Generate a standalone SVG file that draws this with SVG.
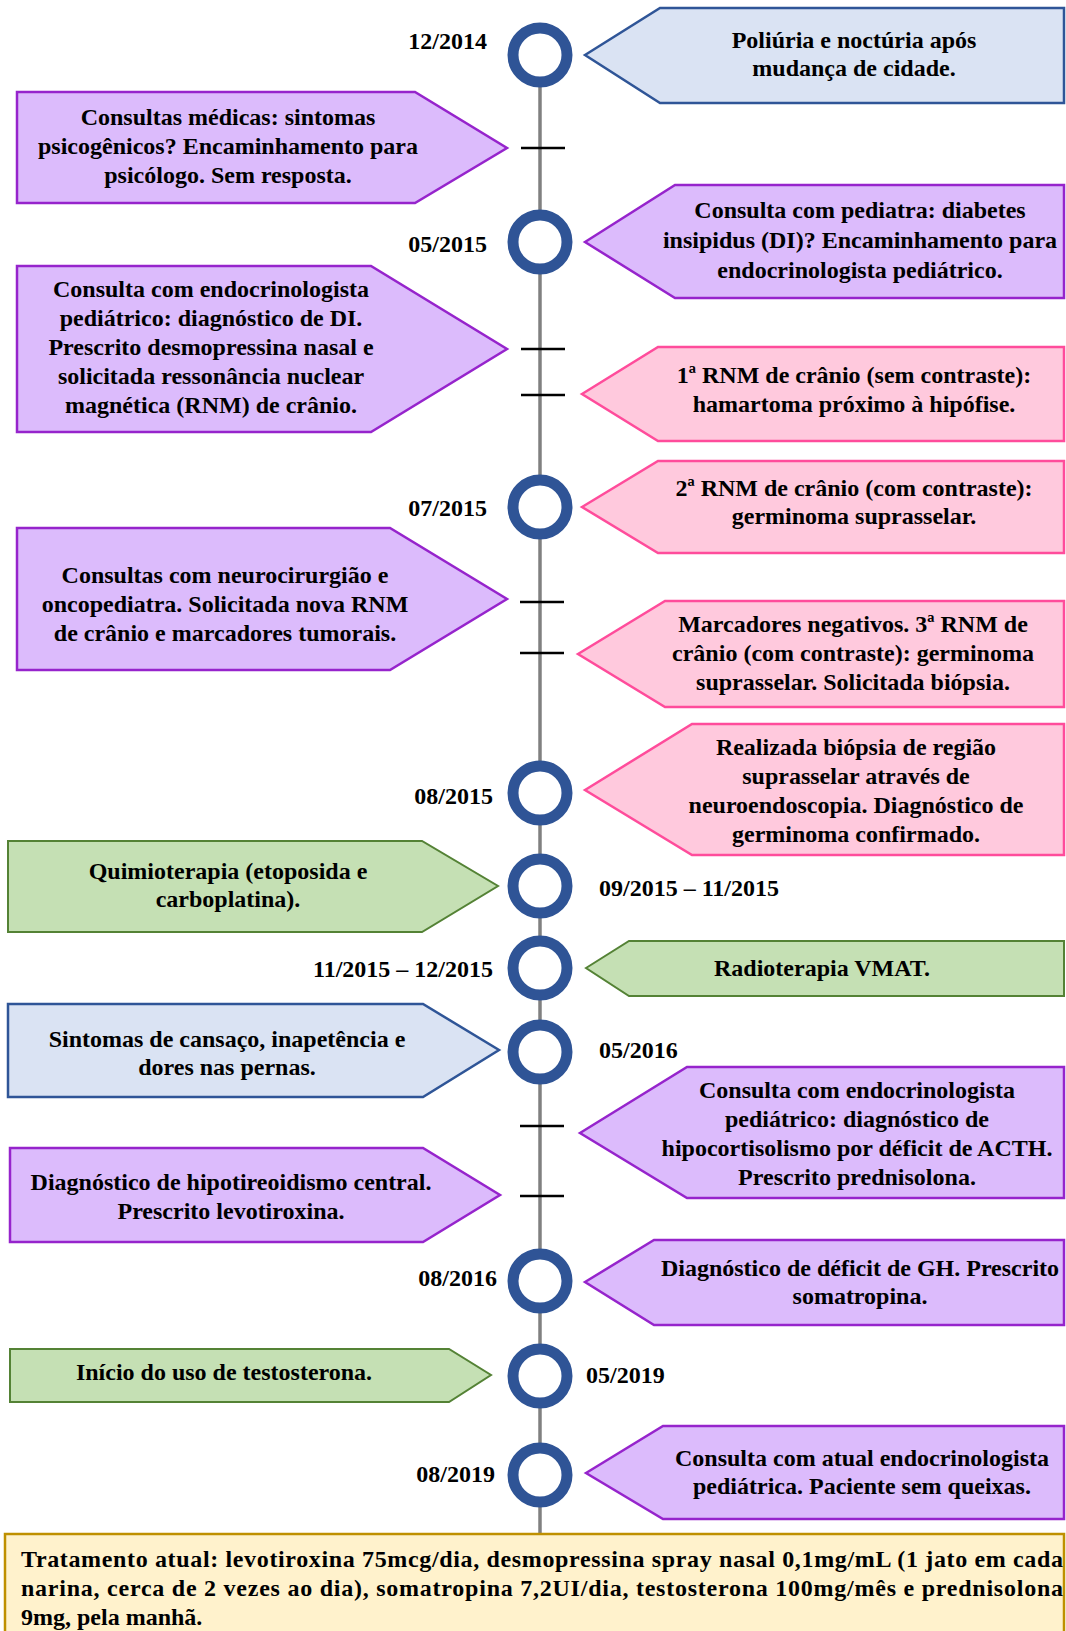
<svg xmlns="http://www.w3.org/2000/svg" width="1066" height="1631" viewBox="0 0 1066 1631">
<style>
text{font-family:"Liberation Serif","Times New Roman",serif;font-weight:bold;font-size:24px;fill:#000}
.c{text-anchor:middle}
.e{text-anchor:end}
.blue{fill:#DAE3F3;stroke:#2F5597;stroke-width:2.5}
.purple{fill:#DCBBFC;stroke:#9624CC;stroke-width:2.5}
.pink{fill:#FFC9DD;stroke:#FF4C9B;stroke-width:2.5}
.green{fill:#C5E0B4;stroke:#548235;stroke-width:2}
.yellow{fill:#FFF2CC;stroke:#BF9000;stroke-width:2.5}
.ring{fill:#fff;stroke:#2F5496;stroke-width:11}
.tick{stroke:#000;stroke-width:2.5}
</style>
<rect width="1066" height="1631" fill="#fff"/>
<g id="connectors">
<line x1="540" y1="55" x2="540" y2="1534" stroke="#808080" stroke-width="3.5"/>
<line class="tick" x1="521" y1="148" x2="565" y2="148"/>
<line class="tick" x1="521" y1="349" x2="565" y2="349"/>
<line class="tick" x1="521" y1="395" x2="565" y2="395"/>
<line class="tick" x1="520" y1="602" x2="564" y2="602"/>
<line class="tick" x1="520" y1="653" x2="564" y2="653"/>
<line class="tick" x1="520" y1="1126" x2="564" y2="1126"/>
<line class="tick" x1="520" y1="1196" x2="564" y2="1196"/>
</g>
<g id="m1"><circle class="ring" cx="540" cy="55" r="27"/><text class="e" x="487" y="49">12/2014</text></g>
<g id="m2"><circle class="ring" cx="540" cy="242" r="27"/><text class="e" x="487" y="252">05/2015</text></g>
<g id="m3"><circle class="ring" cx="540" cy="507" r="27"/><text class="e" x="487" y="516">07/2015</text></g>
<g id="m4"><circle class="ring" cx="540" cy="793" r="27"/><text class="e" x="493" y="804">08/2015</text></g>
<g id="m5"><circle class="ring" cx="540" cy="886" r="27"/><text x="599" y="896">09/2015 – 11/2015</text></g>
<g id="m6"><circle class="ring" cx="540" cy="968" r="27"/><text class="e" x="493" y="977">11/2015 – 12/2015</text></g>
<g id="m7"><circle class="ring" cx="540" cy="1052" r="27"/><text x="599" y="1058">05/2016</text></g>
<g id="m8"><circle class="ring" cx="540" cy="1281" r="27"/><text class="e" x="497" y="1286">08/2016</text></g>
<g id="m9"><circle class="ring" cx="540" cy="1376" r="27"/><text x="586" y="1383">05/2019</text></g>
<g id="m10"><circle class="ring" cx="540" cy="1475" r="27"/><text class="e" x="495" y="1482">08/2019</text></g>

<g id="r1"><polygon class="blue" points="585,55 660,8 1064,8 1064,103 660,103"/>
<text class="c" x="854" y="48">Poliúria e noctúria após</text><text class="c" x="854" y="76">mudança de cidade.</text></g>
<g id="l1"><polygon class="purple" points="17,92 415,92 507,148 415,203 17,203"/>
<text class="c" x="228" y="125">Consultas médicas: sintomas</text><text class="c" x="228" y="154">psicogênicos? Encaminhamento para</text><text class="c" x="228" y="183">psicólogo. Sem resposta.</text></g>
<g id="r2"><polygon class="purple" points="585,242 675,185 1064,185 1064,298 675,298"/>
<text class="c" x="860" y="218">Consulta com pediatra: diabetes</text><text class="c" x="860" y="248">insipidus (DI)? Encaminhamento para</text><text class="c" x="860" y="278">endocrinologista pediátrico.</text></g>
<g id="l2"><polygon class="purple" points="17,266 371,266 507,349 371,432 17,432"/>
<text class="c" x="211" y="297">Consulta com endocrinologista</text><text class="c" x="211" y="326">pediátrico: diagnóstico de DI.</text><text class="c" x="211" y="355">Prescrito desmopressina nasal e</text><text class="c" x="211" y="384">solicitada ressonância nuclear</text><text class="c" x="211" y="413">magnética (RNM) de crânio.</text></g>
<g id="r3"><polygon class="pink" points="582,394 658,347 1064,347 1064,441 658,441"/>
<text class="c" x="854" y="383">1ª RNM de crânio (sem contraste):</text><text class="c" x="854" y="412">hamartoma próximo à hipófise.</text></g>
<g id="r4"><polygon class="pink" points="582,507 658,461 1064,461 1064,553 658,553"/>
<text class="c" x="854" y="496">2ª RNM de crânio (com contraste):</text><text class="c" x="854" y="524">germinoma suprasselar.</text></g>
<g id="l3"><polygon class="purple" points="17,528 390,528 507,599 390,670 17,670"/>
<text class="c" x="225" y="583">Consultas com neurocirurgião e</text><text class="c" x="225" y="612">oncopediatra. Solicitada nova RNM</text><text class="c" x="225" y="641">de crânio e marcadores tumorais.</text></g>
<g id="r5"><polygon class="pink" points="578,654 665,601 1064,601 1064,707 665,707"/>
<text class="c" x="853" y="632">Marcadores negativos. 3ª RNM de</text><text class="c" x="853" y="661">crânio (com contraste): germinoma</text><text class="c" x="853" y="690">suprasselar. Solicitada biópsia.</text></g>
<g id="r6"><polygon class="pink" points="585,790 692,724 1064,724 1064,855 692,855"/>
<text class="c" x="856" y="755">Realizada biópsia de região</text><text class="c" x="856" y="784">suprasselar através de</text><text class="c" x="856" y="813">neuroendoscopia. Diagnóstico de</text><text class="c" x="856" y="842">germinoma confirmado.</text></g>
<g id="l4"><polygon class="green" points="8,841 422,841 498,886 422,932 8,932"/>
<text class="c" x="228" y="879">Quimioterapia (etoposida e</text><text class="c" x="228" y="907">carboplatina).</text></g>
<g id="r7"><polygon class="green" points="586,968 629,941 1064,941 1064,996 629,996"/>
<text class="c" x="822" y="976">Radioterapia VMAT.</text></g>
<g id="l5"><polygon class="blue" points="8,1004 423,1004 499,1050 423,1097 8,1097"/>
<text class="c" x="227" y="1047">Sintomas de cansaço, inapetência e</text><text class="c" x="227" y="1075">dores nas pernas.</text></g>
<g id="r8"><polygon class="purple" points="580,1133 687,1067 1064,1067 1064,1198 687,1198"/>
<text class="c" x="857" y="1098">Consulta com endocrinologista</text><text class="c" x="857" y="1127">pediátrico: diagnóstico de</text><text class="c" x="857" y="1156">hipocortisolismo por déficit de ACTH.</text><text class="c" x="857" y="1185">Prescrito prednisolona.</text></g>
<g id="l6"><polygon class="purple" points="10,1148 423,1148 500,1195 423,1242 10,1242"/>
<text class="c" x="231" y="1190">Diagnóstico de hipotireoidismo central.</text><text class="c" x="231" y="1219">Prescrito levotiroxina.</text></g>
<g id="r9"><polygon class="purple" points="585,1282 654,1240 1064,1240 1064,1325 654,1325"/>
<text class="c" x="860" y="1276">Diagnóstico de déficit de GH. Prescrito</text><text class="c" x="860" y="1304">somatropina.</text></g>
<g id="l7"><polygon class="green" points="10,1349 449,1349 491,1375 449,1402 10,1402"/>
<text class="c" x="224" y="1380">Início do uso de testosterona.</text></g>
<g id="r10"><polygon class="purple" points="586,1473 663,1426 1064,1426 1064,1519 663,1519"/>
<text class="c" x="862" y="1466">Consulta com atual endocrinologista</text><text class="c" x="862" y="1494">pediátrica. Paciente sem queixas.</text></g>
<g id="summary"><rect class="yellow" x="5" y="1534" width="1059" height="110"/>
<text x="21" y="1567" textLength="1042" lengthAdjust="spacing">Tratamento atual: levotiroxina 75mcg/dia, desmopressina spray nasal 0,1mg/mL (1 jato em cada</text>
<text x="21" y="1596" textLength="1042" lengthAdjust="spacing">narina, cerca de 2 vezes ao dia), somatropina 7,2UI/dia, testosterona 100mg/mês e prednisolona</text>
<text x="21" y="1625">9mg, pela manhã.</text></g>
</svg>
